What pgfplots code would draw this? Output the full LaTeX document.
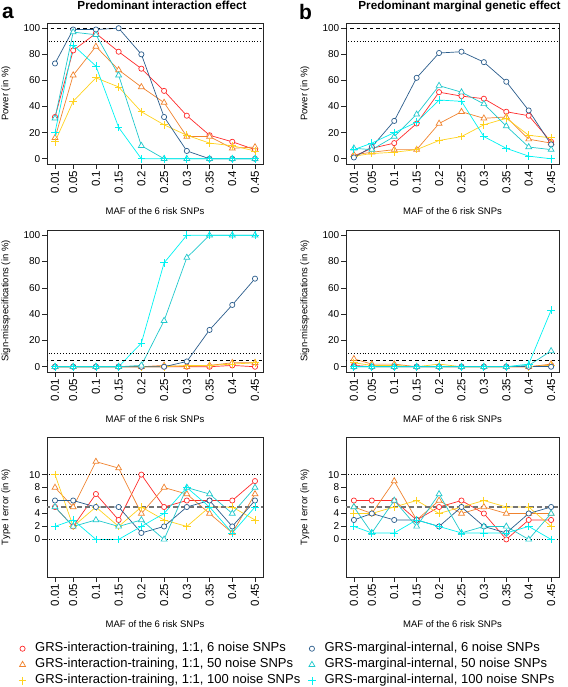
\documentclass[border=0pt]{standalone}
\usepackage{fontspec}
\setmainfont{Liberation Sans}
\usepackage{pgfplots}
\usepackage{pgfplotstable}
\pgfplotsset{compat=1.18}

\definecolor{cR}{HTML}{FF2A2A}
\definecolor{cO}{HTML}{F0832E}
\definecolor{cY}{HTML}{FFD21F}
\definecolor{cB}{HTML}{2B5D8C}
\definecolor{cC}{HTML}{1FC8CC}
\definecolor{cCC}{HTML}{00F2F2}

% Power, predominant interaction effect
\pgfplotstableread{
x    r6  r50 r100 b6  c50 c100
0.01 32  16  13   73  31  20
0.05 83  64  44   99  97  87
0.10 96  86  62   99  95  71
0.15 82  68  55   100 64  24
0.20 69  55  36   80  10  0
0.25 52  43  26   32  0   0
0.30 33  17  18   6   0   0
0.35 18  17  12   0   0   0
0.40 13  8   10   0   0   0
0.45 7   9   6    0   0   0
}\tAa
% Power, predominant marginal effect
\pgfplotstableread{
x    r6  r50 r100 b6 c50 c100
0.01 2   3   2    1  8   7
0.05 8   5   4    9  7   12
0.10 12  7   5    29 17  20
0.15 27  7   7    62 34  28
0.20 51  27  14   81 56  45
0.25 48  36  17   82 51  44
0.30 46  31  26   74 42  17
0.35 36  32  31   59 25  8
0.40 33  15  18   37 9   2
0.45 13  12  16   11 7   0
}\tBa
% Sign-misspecifications, interaction
\pgfplotstableread{
x    r6 r50 r100 b6 c50 c100
0.01 0  0   0    0  0   0
0.05 0  0   0    0  0   0
0.10 0  0   0    0  0   0
0.15 0  0   0    0  0   0
0.20 0  0   0    0  1   18
0.25 0  1   0    0  35  79
0.30 0  0   1    4  83  100
0.35 0  1   1    28 100 100
0.40 1  3   2    47 100 100
0.45 0  3   3    67 100 100
}\tAb
% Sign-misspecifications, marginal
\pgfplotstableread{
x    r6 r50 r100 b6 c50 c100
0.01 1  6   3    0  0   0
0.05 0  2   1    0  0   0
0.10 0  2   1    0  0   0
0.15 0  0   0    0  0   0
0.20 0  0   2    0  0   0
0.25 0  0   0    0  0   0
0.30 0  0   0    0  0   0
0.35 0  0   0    0  0   0
0.40 0  0   0    0  1   2
0.45 1  2   1    0  12  43
}\tBb
% Type I error, interaction
\pgfplotstableread{
x    r6 r50 r100 b6 c50 c100
0.01 5  8   10   6  5   2
0.05 2  5   2    6  2   3
0.10 7  12  5    5  3   0
0.15 3  11  2    5  2   0
0.20 10 4   5    1  3   2
0.25 5  8   3    2  0   4
0.30 6  7   2    5  8   8
0.35 6  4   5    6  7   5
0.40 6  1   5    2  4   1
0.45 9  7   3    6  8   5
}\tAc
% Type I error, marginal
\pgfplotstableread{
x    r6 r50 r100 b6 c50 c100
0.01 6  5   4    3  5   2
0.05 6  4   4    4  1   1
0.10 6  9   5    3  6   1
0.15 3  3   6    3  2   3
0.20 5  6   4    2  7   2
0.25 6  4   5    5  1   1
0.30 4  5   6    2  2   1
0.35 0  4   5    1  2   1
0.40 3  4   5    4  0   2
0.45 3  4   2    5  4   0
}\tBc

\pgfplotsset{
  base/.style={
    scale only axis,
    xmin=-0.0076, xmax=0.4676,
    xtick={0.01,0.05,0.1,0.15,0.2,0.25,0.3,0.35,0.4,0.45},
    xticklabels={0.01,0.05,0.1,0.15,0.2,0.25,0.3,0.35,0.4,0.45},
    xticklabel style={rotate=90, anchor=east, font=\fontsize{11.5}{13}\selectfont, inner sep=1.5pt},
    yticklabel style={font=\fontsize{10}{12}\selectfont, inner sep=1.5pt},
    /pgf/number format/assume math mode=true,
    tick align=outside, xtick pos=bottom, ytick pos=left,
    major tick length=5pt,
    tick style={black!85, line width=0.6pt},
    axis line style={black!85, line width=0.7pt},
    minor tick num=0,
    xlabel={MAF of the 6 risk SNPs},
    xlabel style={at={([yshift=-47pt]axis description cs:0.5,0)}, anchor=center, font=\fontsize{9.5}{11}\selectfont},
    ylabel style={at={([xshift=-41pt]axis description cs:0,0.5)}, anchor=center, font=\fontsize{9.5}{11}\selectfont},
    title style={at={([xshift=7pt,yshift=7pt]axis description cs:0.5,1)}, anchor=base, font=\bfseries\fontsize{11.7}{13}\selectfont},
    clip=true,
  },
  pct/.style={base, ymin=-4, ymax=104, ytick={0,20,40,60,80,100}},
  typ/.style={base, ymin=-5.8, ymax=15.8, ytick={0,2,4,6,8,10}},
  sr6/.style={cR, line width=0.7pt, mark=*, mark size=2.6pt, mark options={fill=white, line width=0.7pt}},
  sr50/.style={cO, line width=0.7pt, mark=triangle*, mark size=3.4pt, mark options={fill=white, line width=0.7pt}},
  sr100/.style={cY, line width=0.7pt, mark=+, mark size=3.8pt, mark options={line width=0.8pt}},
  sb6/.style={cB, line width=0.7pt, mark=*, mark size=2.6pt, mark options={fill=white, line width=0.7pt}},
  sc50/.style={cC, line width=0.7pt, mark=triangle*, mark size=3.4pt, mark options={fill=white, line width=0.7pt}},
  sc100/.style={cCC, line width=0.7pt, mark=+, mark size=3.8pt, mark options={line width=0.8pt}},
  dashref/.style={black, line width=0.6pt, dash pattern=on 3.5pt off 3pt, forget plot},
  dotref/.style={black, line width=0.7pt, dash pattern=on 0.7pt off 2.2pt, forget plot},
}

\newcommand{\sixplots}[1]{%
  \addplot[sr6, forget plot] table[x=x,y=r6]{#1};
  \addplot[sr50, forget plot] table[x=x,y=r50]{#1};
  \addplot[sr100, forget plot] table[x=x,y=r100]{#1};
  \addplot[sb6, forget plot] table[x=x,y=b6]{#1};
  \addplot[sc50, forget plot] table[x=x,y=c50]{#1};
  \addplot[sc100, forget plot] table[x=x,y=c100]{#1};
}

\begin{document}
\begin{tikzpicture}
\useasboundingbox (0,0) rectangle (567pt,687pt);

% ---- row 1 ----
\begin{axis}[pct, at={(47pt,523pt)}, anchor=south west, width=216pt, height=141pt,
  title={Predominant interaction effect}, ylabel={Power (in \%)}]
  \sixplots{\tAa}
  \addplot[dashref] coordinates {(-0.1,100) (0.6,100)};
  \addplot[dotref] coordinates {(-0.1,90) (0.6,90)};
\end{axis}
\begin{axis}[pct, at={(346pt,523pt)}, anchor=south west, width=213pt, height=141pt,
  title={Predominant marginal genetic effect}, ylabel={Power (in \%)}]
  \sixplots{\tBa}
  \addplot[dashref] coordinates {(-0.1,100) (0.6,100)};
  \addplot[dotref] coordinates {(-0.1,90) (0.6,90)};
\end{axis}

% ---- row 2 ----
\begin{axis}[pct, at={(47pt,315pt)}, anchor=south west, width=216pt, height=142pt,
  ylabel={Sign-misspecifications (in \%)}]
  \sixplots{\tAb}
  \addplot[dashref] coordinates {(-0.1,5) (0.6,5)};
  \addplot[dotref] coordinates {(-0.1,10) (0.6,10)};
\end{axis}
\begin{axis}[pct, at={(346pt,315pt)}, anchor=south west, width=213pt, height=142pt,
  ylabel={Sign-misspecifications (in \%)}]
  \sixplots{\tBb}
  \addplot[dashref] coordinates {(-0.1,5) (0.6,5)};
  \addplot[dotref] coordinates {(-0.1,10) (0.6,10)};
\end{axis}

% ---- row 3 ----
\begin{axis}[typ, at={(47pt,110pt)}, anchor=south west, width=216pt, height=140pt,
  ylabel={Type I error (in \%)},
  legend columns=2,
  legend cell align=left,
  legend image code/.code={\path (0pt,0pt) (19pt,0pt); \draw[#1] plot coordinates {(8pt,0pt)};},
  legend style={at={([xshift=-33pt,yshift=-63.5pt]axis description cs:0,0)}, anchor=north west,
    draw=none, fill=none, inner sep=0pt, font=\fontsize{13}{15}\selectfont,
    nodes={text height=10pt, text depth=3.5pt, inner sep=1.25pt},
    /tikz/every even column/.append style={column sep=2pt}}]
  \addlegendimage{sr6}\addlegendentry{GRS-interaction-training, 1:1, 6 noise SNPs}
  \addlegendimage{sb6}\addlegendentry{GRS-marginal-internal, 6 noise SNPs}
  \addlegendimage{sr50}\addlegendentry{GRS-interaction-training, 1:1, 50 noise SNPs}
  \addlegendimage{sc50}\addlegendentry{GRS-marginal-internal, 50 noise SNPs}
  \addlegendimage{sr100}\addlegendentry{GRS-interaction-training, 1:1, 100 noise SNPs}
  \addlegendimage{sc100}\addlegendentry{GRS-marginal-internal, 100 noise SNPs}
  \sixplots{\tAc}
  \addplot[dotref] coordinates {(-0.1,0) (0.6,0)};
  \addplot[dotref] coordinates {(-0.1,10) (0.6,10)};
  \addplot[black!55, line width=1.8pt, dash pattern=on 5pt off 3pt, forget plot] coordinates {(-0.1,5) (0.6,5)};
\end{axis}
\begin{axis}[typ, at={(346pt,110pt)}, anchor=south west, width=213pt, height=140pt,
  ylabel={Type I error (in \%)}]
  \sixplots{\tBc}
  \addplot[dotref] coordinates {(-0.1,0) (0.6,0)};
  \addplot[dotref] coordinates {(-0.1,10) (0.6,10)};
  \addplot[black!55, line width=1.8pt, dash pattern=on 5pt off 3pt, forget plot] coordinates {(-0.1,5) (0.6,5)};
\end{axis}

\node[anchor=base west, font=\bfseries\fontsize{21}{24}\selectfont, inner sep=0pt] at (2pt,668pt) {a};
\node[anchor=base west, font=\bfseries\fontsize{21}{24}\selectfont, inner sep=0pt] at (299pt,667pt) {b};
\end{tikzpicture}
\end{document}
